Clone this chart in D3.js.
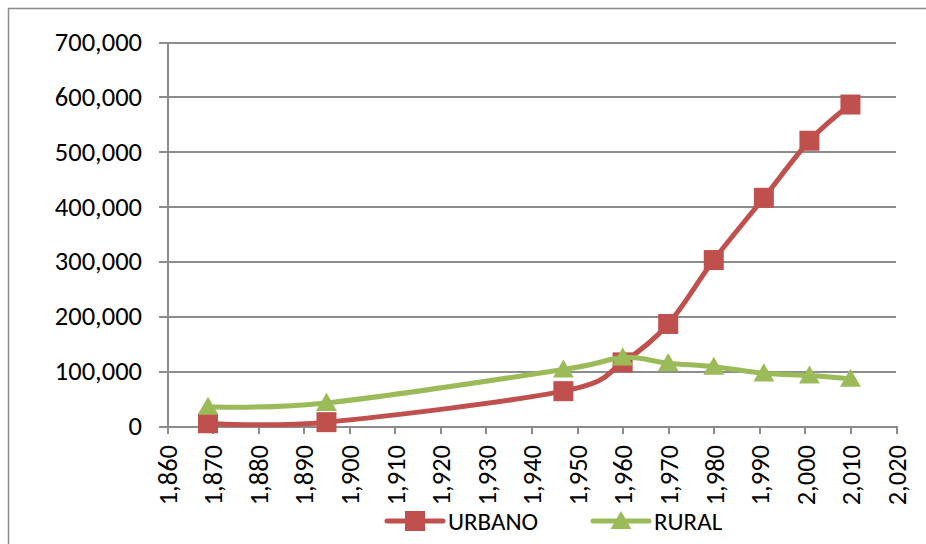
<!DOCTYPE html>
<html>
<head>
<meta charset="utf-8">
<script src="https://cdn.jsdelivr.net/npm/d3@7"></script>
<style>
  html, body { margin: 0; padding: 0; background: #fff; }
  svg { display: block; font-family: Carlito, Calibri, Lato, sans-serif; }
  .axis path, .axis line { stroke: #8c8c8c; stroke-width: 2; shape-rendering: crispEdges; }
  .axis text { fill: #000; font-size: 26.5px; font-family: Carlito, Calibri, Lato, sans-serif; }
</style>
</head>
<body>
<div id="chart"></div>
<script>
const years = [1869, 1895, 1947, 1960, 1970, 1980, 1991, 2001, 2010]
const urbano = [5000, 7000, 63500, 116000, 186000, 302500, 416000, 520000, 586000]
const rural = [35000, 42000, 103000, 125000, 114500, 108000, 96000, 92000, 86000]
const seriesNames = ['URBANO', 'RURAL']
const xTicks = d3.range(1860, 2021, 10)
const yTicks = d3.range(0, 700001, 100000)

const W = 926, H = 544
const margin = { top: 42, right: 30, bottom: 118, left: 167 }
const width = 896 - margin.left
const height = 426 - margin.top
const colors = { URBANO: '#c0504d', RURAL: '#9bbb59' }

const svg = d3.select('#chart').append('svg').attr('width', W).attr('height', H)
// chart frame
svg.append('rect').attr('x', 8.5).attr('y', 8.5).attr('width', W).attr('height', H)
  .attr('fill', 'none').attr('stroke', '#8c8c8c').attr('stroke-width', 1.5)

const g = svg.append('g').attr('transform', `translate(${margin.left},${margin.top})`)

const x = d3.scaleLinear().domain([1860, 2020]).range([0, width])
const y = d3.scaleLinear().domain([0, 700000]).range([height, 0])
const fmt = d3.format(',')

// gridlines
g.append('g').attr('class', 'axis grid')
  .call(d3.axisLeft(y).tickValues(yTicks).tickSize(-width).tickFormat(''))
  .call(s => s.select('.domain').remove())

// y axis
const ya = g.append('g').attr('class', 'axis')
  .call(d3.axisLeft(y).tickValues(yTicks).tickSizeInner(8).tickSizeOuter(0).tickPadding(17).tickFormat(fmt))

// x axis
const xa = g.append('g').attr('class', 'axis').attr('transform', `translate(0,${height})`)
  .call(d3.axisBottom(x).tickValues(xTicks).tickSizeInner(8).tickSizeOuter(0).tickFormat(fmt))
xa.selectAll('text')
  .attr('transform', 'rotate(-90)')
  .attr('x', -19).attr('y', 0).attr('dy', '0.35em')
  .style('text-anchor', 'end')

const line = d3.line().curve(d3.curveCardinal.tension(0))
  .x(d => x(d[0])).y(d => y(d[1]))

const series = [
  { name: 'URBANO', values: years.map((yr, i) => [yr, urbano[i]]) },
  { name: 'RURAL', values: years.map((yr, i) => [yr, rural[i]]) }
]

const sq = d3.symbol().type(d3.symbolSquare).size(400)
const tri = d3.symbol().type(d3.symbolTriangle).size(190)

series.forEach(s => {
  const c = colors[s.name]
  g.append('path').datum(s.values).attr('d', line)
    .attr('fill', 'none').attr('stroke', c).attr('stroke-width', 5)
    .attr('stroke-linejoin', 'round')
  g.selectAll(null).data(s.values).enter().append('path')
    .attr('transform', d => `translate(${x(d[0])},${y(d[1]) + (s.name === 'RURAL' ? 2 : 0)})`)
    .attr('d', s.name === 'URBANO' ? sq() : tri())
    .attr('fill', c)
})

// legend
const legend = svg.append('g').attr('transform', 'translate(387,521)')
seriesNames.forEach((name, i) => {
  const lg = legend.append('g').attr('transform', `translate(${i * 206},0)`)
  lg.append('line').attr('x1', 0).attr('x2', 56).attr('y1', 0).attr('y2', 0)
    .attr('stroke', colors[name]).attr('stroke-width', 5).attr('stroke-linecap', 'round')
  lg.append('path').attr('transform', `translate(28,${name === 'RURAL' ? 2 : 0})`)
    .attr('d', name === 'URBANO' ? sq() : tri()).attr('fill', colors[name])
  lg.append('text').attr('x', 61).attr('y', 0).attr('dy', '0.35em')
    .style('font-size', '25px').text(name)
})
</script>
</body>
</html>
